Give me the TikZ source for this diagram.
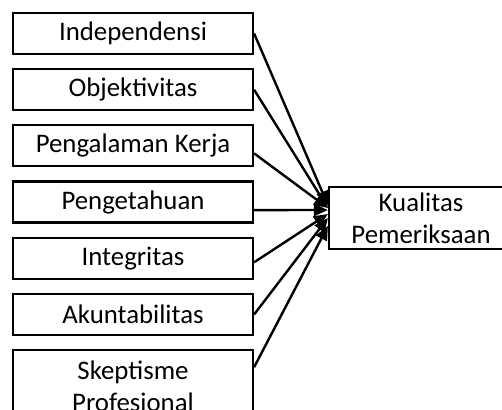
\documentclass[tikz,border=0pt]{standalone}
\usepackage{fontspec}
\setmainfont{Carlito}
\usepackage{tikz}
\usetikzlibrary{positioning, arrows.meta}
\definecolor{inkBlack}{RGB}{0,0,0}

\begin{document}
\begin{tikzpicture}[x=0.5pt, y=-0.5pt,
    factorBox/.style={draw=inkBlack, line width=1.1pt, minimum width=120pt,
      minimum height=20.5pt, inner sep=1pt, align=center,
      font=\fontsize{13.4}{16}\selectfont},
    tallBox/.style={factorBox, minimum height=36pt},
    linkArrow/.style={draw=inkBlack, line width=1.2pt,
      -{Triangle[length=7pt, width=6pt]}}]
        \useasboundingbox (0,0) rectangle (502,410);
        % variabel bebas
        \node[factorBox] (indep) at (133,33.5) {Independensi};
        \node[factorBox, below=6.5pt of indep] (objek) {Objektivitas};
        \node[factorBox, below=6.5pt of objek] (pengKerja) {Pengalaman Kerja};
        \node[factorBox, below=6.5pt of pengKerja] (penget) {Pengetahuan};
        \node[factorBox, below=6.5pt of penget] (integ) {Integritas};
        \node[factorBox, below=6.5pt of integ] (akunt) {Akuntabilitas};
        \node[tallBox, below=6.5pt of akunt] (skept) {Skeptisme\\Profesional};
        % variabel terikat
        \node[factorBox, minimum width=92pt, minimum height=31pt] (kualitas)
          at (421,218) {Kualitas\\Pemeriksaan};
        \foreach \src/\from/\to in {indep/0pt/6.5pt, objek/0pt/5pt,
            pengKerja/-3.75pt/5pt, penget/-4pt/4pt, integ/-2pt/2pt,
            akunt/0pt/0pt, skept/9.5pt/-4pt} {
          \draw[linkArrow] ([yshift=\from]\src.east) -- ([yshift=\to]kualitas.west);
        }
      \end{tikzpicture}
\end{document}
